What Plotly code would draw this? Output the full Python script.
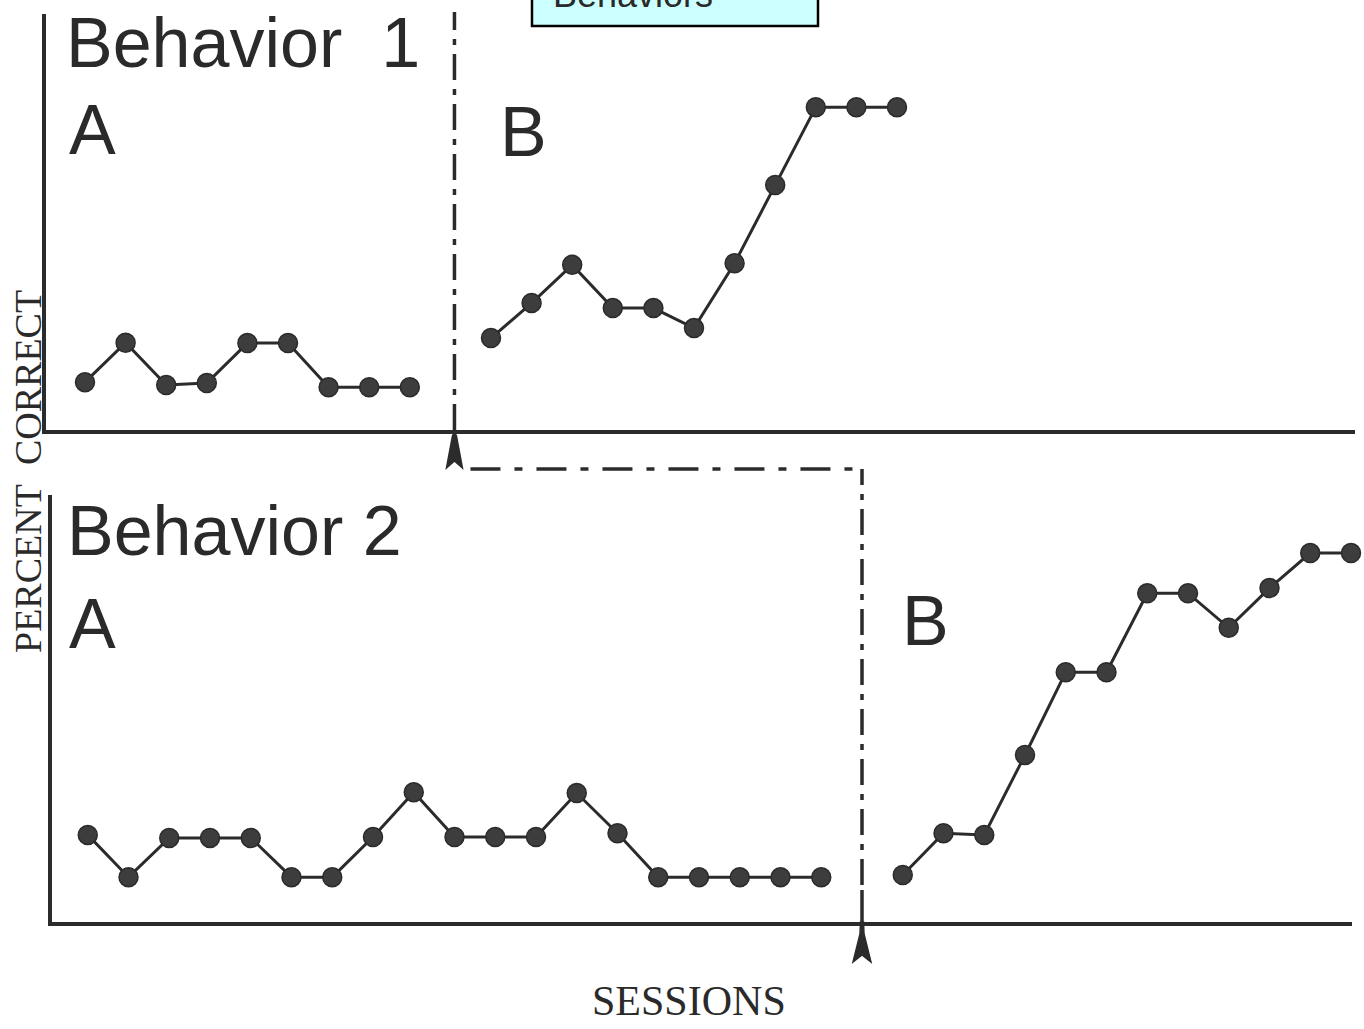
import plotly.graph_objects as go

W, H = 1364, 1029

# ---------------- data ----------------
top_a_sessions = [1, 2, 3, 4, 5, 6, 7, 8, 9]
top_a_values = [11.5, 21.0, 10.8, 11.3, 20.9, 20.9, 10.3, 10.3, 10.3]
top_b_sessions = [11, 12, 13, 14, 15, 16, 17, 18, 19, 20, 21]
top_b_values = [22.1, 30.5, 39.7, 29.3, 29.3, 24.5, 40.1, 58.9, 77.6, 77.6, 77.6]

bot_a_sessions = list(range(1, 20))
bot_a_values = [20.4, 10.5, 19.7, 19.7, 19.7, 10.5, 10.5, 19.9, 30.4, 19.9,
                19.9, 19.9, 30.2, 20.8, 10.5, 10.5, 10.5, 10.5, 10.5]
bot_b_sessions = list(range(21, 33))
bot_b_values = [11.0, 20.8, 20.4, 39.1, 58.5, 58.5, 77.0, 77.0, 68.9, 78.2, 86.4, 86.4]

phase_change_top = 10.1
phase_change_bottom = 20.0

panel_titles = ["Behavior\u00a0 1", "Behavior 2"]
phase_labels = ["A", "B"]
y_title = "PERCENT\u00a0 CORRECT"
x_title = "SESSIONS"
box_text = "Behaviors"

# ---------------- styling ----------------
LINE = "#2b2b2b"
MARK = "#3d3d3d"
AX = 3.5

def px_x(p):
    return p / W

def px_y(p):
    return 1 - p / H

top_xdom = [px_x(46), px_x(1355)]
top_xrange = [(46 - 44.4) / 40.6, (1355 - 44.4) / 40.6]
top_ydom = [px_y(430), px_y(14)]
bot_xdom = [px_x(52), px_x(1352)]
bot_xrange = [(52 - 47.0) / 40.75, (1352 - 47.0) / 40.75]
bot_ydom = [px_y(922), px_y(495)]


def s2paper(s, dom, rng):
    return dom[0] + (s - rng[0]) / (rng[1] - rng[0]) * (dom[1] - dom[0])


fig = go.Figure()

def add_series(xs, ys, xa, ya):
    fig.add_trace(go.Scatter(
        x=xs, y=ys, xaxis=xa, yaxis=ya, mode="lines+markers",
        line=dict(color=LINE, width=3),
        marker=dict(size=19, color=MARK, line=dict(color=LINE, width=1.5)),
        showlegend=False, cliponaxis=False, hoverinfo="x+y"))

add_series(top_a_sessions, top_a_values, "x", "y")
add_series(top_b_sessions, top_b_values, "x", "y")
add_series(bot_a_sessions, bot_a_values, "x2", "y2")
add_series(bot_b_sessions, bot_b_values, "x2", "y2")

axis_common = dict(showline=True, linewidth=AX, linecolor=LINE, showgrid=False,
                   zeroline=False, showticklabels=False, ticks="", fixedrange=True)

fig.update_layout(
    width=W, height=H, margin=dict(l=0, r=0, t=0, b=0),
    paper_bgcolor="white", plot_bgcolor="white",
    xaxis=dict(domain=top_xdom, range=top_xrange, anchor="y", **axis_common),
    yaxis=dict(domain=top_ydom, range=[0, 100], anchor="x", **axis_common),
    xaxis2=dict(domain=bot_xdom, range=bot_xrange, anchor="y2", **axis_common),
    yaxis2=dict(domain=bot_ydom, range=[0, 100], anchor="x2", **axis_common),
)

DASH = "26px,9px,6px,9px"
shapes = []
# top phase change line
shapes.append(dict(type="line", xref="x", yref="paper", x0=phase_change_top, x1=phase_change_top,
                   y0=top_ydom[0], y1=px_y(12), line=dict(color=LINE, width=3.5, dash=DASH)))
# top arrow (below top axis)
shapes.append(dict(type="path", xref="x", yref="paper", xsizemode="pixel", ysizemode="pixel",
                   xanchor=phase_change_top, yanchor=top_ydom[0],
                   path="M 0,-2 L 2,-6 L 8,-38 L 0,-31 L -8,-38 L -2,-6 Z",
                   fillcolor=LINE, line=dict(color=LINE, width=1.5)))
# connector
xa_p = s2paper(phase_change_top, top_xdom, top_xrange)
xb_p = s2paper(phase_change_bottom, bot_xdom, bot_xrange)
shapes.append(dict(type="line", xref="paper", yref="paper", x0=xa_p + 16 / W, x1=xb_p,
                   y0=px_y(469), y1=px_y(469), line=dict(color=LINE, width=3.5, dash="30px,14px,8px,14px")))
# bottom phase change line
shapes.append(dict(type="line", xref="x2", yref="paper", x0=phase_change_bottom, x1=phase_change_bottom,
                   y0=px_y(885), y1=px_y(469), line=dict(color=LINE, width=3.5, dash=DASH)))
shapes.append(dict(type="line", xref="x2", yref="paper", x0=phase_change_bottom, x1=phase_change_bottom,
                   y0=bot_ydom[0], y1=px_y(890), line=dict(color=LINE, width=3.5)))
# bottom arrow
shapes.append(dict(type="path", xref="x2", yref="paper", xsizemode="pixel", ysizemode="pixel",
                   xanchor=phase_change_bottom, yanchor=bot_ydom[0],
                   path="M -1.5,0 L 1.5,0 L 2,-12 L 9,-40 L 0,-33 L -9,-40 L -2,-12 Z",
                   fillcolor=LINE, line=dict(color=LINE, width=1.5)))
# header box
shapes.append(dict(type="rect", xref="paper", yref="paper", x0=px_x(532), x1=px_x(818),
                   y0=px_y(26), y1=px_y(-30), fillcolor="#CCFFFF", line=dict(color="black", width=2.5)))
fig.update_layout(shapes=shapes)

SANS = "Liberation Sans, Arial, sans-serif"
SERIF = "Liberation Serif, Times New Roman, serif"
ann = []
def label(text, x, y, size=70, font=SANS, **kw):
    ann.append(dict(text=text, x=px_x(x), y=px_y(y), xref="paper", yref="paper",
                    xanchor=kw.pop("xanchor", "left"), yanchor=kw.pop("yanchor", "middle"),
                    showarrow=False, font=dict(family=font, size=size, color="#2a2a2a"), **kw))

label(panel_titles[0], 64, 43)
label(phase_labels[0], 67, 130)
label(phase_labels[1], 498, 132)
label(panel_titles[1], 65, 531)
label(phase_labels[0], 67, 624)
label(phase_labels[1], 900, 621)
label(box_text, 551, 17, size=36, yanchor="bottom")
label(x_title, 689, 1001, size=42, font=SERIF, xanchor="center")
label(y_title, 28, 472, size=38, font=SERIF, xanchor="center", textangle=-90)
fig.update_layout(annotations=ann)

fig.write_html("out.html", config={"displayModeBar": False},
               post_script="document.body.style.margin='0';")
